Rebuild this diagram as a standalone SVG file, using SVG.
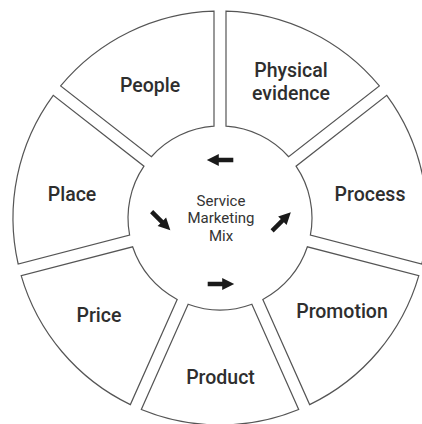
<svg xmlns="http://www.w3.org/2000/svg" width="422" height="424" viewBox="0 0 422 424">
  <style>
    .seg { fill: #ffffff; stroke: #555555; stroke-width: 1.2; stroke-linejoin: miter; }
    .label { font-family: Roboto, "Liberation Sans", sans-serif; font-size: 19.5px; font-weight: 500; fill: #2e2e2e; text-anchor: middle; }
    .hub { font-family: Roboto, "Liberation Sans", sans-serif; font-size: 15px; fill: #333333; text-anchor: middle; }
    .arrow { fill: #1a1a1a; }
  </style>
  <defs>
    <!-- short thick arrow pointing right, centred on the origin -->
    <path id="arrowShape" d="M-13,-2.2 H1.5 V-6 L13.5,0 L1.5,6 V2.2 H-13 Z"/>
  </defs>

  <rect width="422" height="424" fill="#ffffff"/>

  <!-- ring segments: centre (220,218), outer radius 207, inner radius 92, 12px gaps -->
  <g id="physical-evidence">
    <path class="seg" d="M226,11.09 A207,207 0 0 1 379.35,85.88 L288.65,156.75 A92,92 0 0 0 226,126.2 Z"/>
    <text class="label" x="291" y="77">Physical</text>
    <text class="label" x="291" y="100">evidence</text>
  </g>
  <g id="process">
    <path class="seg" d="M386.75,95.34 A207,207 0 0 1 421.83,264 L310.38,235.18 A92,92 0 0 0 296.04,166.21 Z"/>
    <text class="label" x="370" y="200.5">Process</text>
  </g>
  <g id="promotion">
    <path class="seg" d="M418.82,275.62 A207,207 0 0 1 309.64,404.59 L262.82,299.43 A92,92 0 0 0 307.38,246.8 Z"/>
    <text class="label" x="342" y="318">Promotion</text>
  </g>
  <g id="product">
    <path class="seg" d="M298.68,409.47 A207,207 0 0 1 141.32,409.47 L188.14,304.31 A92,92 0 0 0 251.86,304.31 Z"/>
    <text class="label" x="220.5" y="384">Product</text>
  </g>
  <g id="price">
    <path class="seg" d="M130.36,404.59 A207,207 0 0 1 21.18,275.62 L132.62,246.8 A92,92 0 0 0 177.18,299.43 Z"/>
    <text class="label" x="99" y="321.5">Price</text>
  </g>
  <g id="place">
    <path class="seg" d="M18.17,264 A207,207 0 0 1 53.25,95.34 L143.96,166.21 A92,92 0 0 0 129.62,235.18 Z"/>
    <text class="label" x="72" y="201">Place</text>
  </g>
  <g id="people">
    <path class="seg" d="M60.65,85.88 A207,207 0 0 1 214,11.09 L214,126.2 A92,92 0 0 0 151.35,156.75 Z"/>
    <text class="label" x="150" y="92">People</text>
  </g>

  <!-- hub title -->
  <g id="service-marketing-mix">
    <text class="hub" x="221" y="206">Service</text>
    <text class="hub" x="221" y="223.3">Marketing</text>
    <text class="hub" x="221" y="240.7">Mix</text>
  </g>

  <!-- circulating arrows around the hub -->
  <g id="arrows" class="arrow">
    <use href="#arrowShape" transform="translate(220.3,160) rotate(180)"/>
    <use href="#arrowShape" transform="translate(160.8,220.8) rotate(45)"/>
    <use href="#arrowShape" transform="translate(220.7,284)"/>
    <use href="#arrowShape" transform="translate(281.3,221.7) rotate(-45)"/>
  </g>
</svg>
